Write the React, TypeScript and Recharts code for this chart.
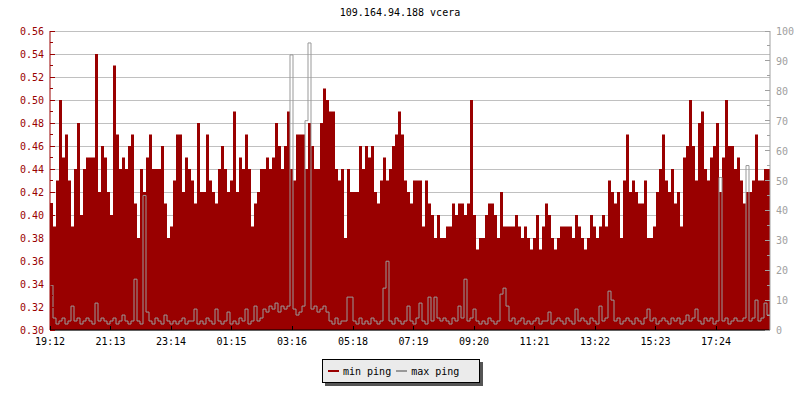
import { ComposedChart, Area, Line, XAxis, YAxis, CartesianGrid } from "recharts"

const TITLE = "109.164.94.188 vcera"
const START = "19:12"
const SPAN_MIN = 1440
const BUCKET_MIN = 6

const TIME_LABELS = ["19:12", "21:13", "23:14", "01:15", "03:16", "05:18", "07:19", "09:20", "11:21", "13:22", "15:23", "17:24"]

// min ping (left axis), one value per 6 minute bucket
const MIN_PING = [
  0.41, 0.39, 0.43, 0.50, 0.45, 0.47, 0.43, 0.39, 0.44, 0.48,
  0.40, 0.44, 0.45, 0.45, 0.45, 0.54, 0.42, 0.46, 0.45, 0.42,
  0.40, 0.53, 0.47, 0.44, 0.45, 0.44, 0.46, 0.47, 0.41, 0.38,
  0.44, 0.42, 0.45, 0.47, 0.44, 0.44, 0.44, 0.46, 0.41, 0.38,
  0.39, 0.43, 0.47, 0.47, 0.42, 0.45, 0.44, 0.43, 0.41, 0.48,
  0.42, 0.42, 0.47, 0.43, 0.42, 0.41, 0.44, 0.46, 0.44, 0.42,
  0.43, 0.49, 0.42, 0.45, 0.44, 0.47, 0.44, 0.39, 0.41, 0.42,
  0.44, 0.44, 0.45, 0.44, 0.45, 0.48, 0.46, 0.44, 0.46, 0.49,
  0.44, 0.43, 0.47, 0.47, 0.47, 0.44, 0.48, 0.46, 0.44, 0.44,
  0.48, 0.51, 0.50, 0.49, 0.49, 0.44, 0.43, 0.44, 0.38, 0.44,
  0.42, 0.42, 0.42, 0.46, 0.44, 0.46, 0.45, 0.46, 0.42, 0.41,
  0.43, 0.45, 0.43, 0.44, 0.46, 0.47, 0.49, 0.47, 0.43, 0.42,
  0.41, 0.43, 0.43, 0.43, 0.39, 0.43, 0.41, 0.40, 0.38, 0.40,
  0.38, 0.38, 0.39, 0.39, 0.41, 0.40, 0.41, 0.41, 0.40, 0.41,
  0.50, 0.40, 0.37, 0.38, 0.38, 0.40, 0.41, 0.41, 0.40, 0.38,
  0.42, 0.39, 0.39, 0.39, 0.39, 0.40, 0.39, 0.38, 0.39, 0.38,
  0.37, 0.38, 0.40, 0.37, 0.39, 0.41, 0.40, 0.38, 0.37, 0.38,
  0.39, 0.39, 0.39, 0.39, 0.38, 0.40, 0.39, 0.38, 0.37, 0.38,
  0.40, 0.39, 0.38, 0.39, 0.40, 0.39, 0.43, 0.42, 0.41, 0.42,
  0.38, 0.43, 0.47, 0.42, 0.43, 0.42, 0.41, 0.41, 0.43, 0.38,
  0.38, 0.39, 0.42, 0.44, 0.47, 0.43, 0.42, 0.44, 0.41, 0.42,
  0.39, 0.45, 0.46, 0.50, 0.46, 0.43, 0.48, 0.49, 0.44, 0.43,
  0.45, 0.46, 0.48, 0.42, 0.45, 0.50, 0.46, 0.46, 0.44, 0.45,
  0.43, 0.41, 0.42, 0.42, 0.43, 0.47, 0.43, 0.43, 0.44, 0.44,
]

// max ping (right axis)
const MAX_PING = [
  15, 4, 2, 3, 4, 2, 3, 8, 3, 4,
  2, 3, 4, 3, 2, 9, 3, 4, 3, 2,
  3, 4, 2, 3, 5, 3, 2, 3, 17, 3,
  2, 45, 6, 3, 2, 4, 3, 2, 5, 3,
  2, 3, 2, 3, 4, 2, 3, 3, 7, 2,
  3, 2, 4, 3, 2, 7, 3, 2, 3, 6,
  2, 3, 2, 4, 3, 7, 2, 3, 8, 3,
  4, 7, 6, 8, 7, 9, 6, 8, 7, 8,
  92, 7, 5, 6, 8, 70, 96, 7, 8, 6,
  7, 8, 6, 3, 2, 4, 2, 3, 3, 11,
  11, 3, 2, 4, 2, 3, 2, 4, 3, 2,
  3, 14, 23, 3, 2, 4, 3, 2, 3, 8,
  3, 2, 4, 9, 3, 2, 11, 3, 11, 4,
  3, 4, 3, 2, 4, 3, 8, 4, 17, 3,
  4, 7, 3, 2, 3, 2, 4, 3, 2, 3,
  12, 14, 8, 3, 4, 2, 3, 4, 2, 3,
  2, 3, 4, 2, 3, 3, 6, 2, 3, 4,
  3, 2, 4, 3, 2, 7, 3, 4, 3, 2,
  4, 3, 2, 8, 3, 4, 13, 10, 3, 4,
  2, 3, 4, 3, 2, 4, 3, 2, 4, 7,
  3, 4, 2, 3, 4, 3, 2, 4, 3, 4,
  2, 3, 5, 3, 4, 7, 3, 2, 4, 3,
  4, 2, 3, 51, 3, 4, 2, 3, 4, 3,
  3, 4, 55, 3, 4, 10, 3, 4, 9, 5,
]

const LEFT_MIN = 0.3
const LEFT_MAX = 0.56
const LEFT_MAJOR = [0.30, 0.32, 0.34, 0.36, 0.38, 0.40, 0.42, 0.44, 0.46, 0.48, 0.50, 0.52, 0.54, 0.56]
const RIGHT_MAJOR = [0, 10, 20, 30, 40, 50, 60, 70, 80, 90, 100]

const RED = "#990000"
const GRAY = "#999999"
const FONT = "'DejaVu Sans Mono', monospace"

const toMin = (s: string) => {
  const [h, m] = s.split(":").map(Number)
  return h * 60 + m
}
const offsetOf = (s: string) => (toMin(s) - toMin(START) + 1440) % 1440

const xTicks = TIME_LABELS.map(offsetOf)
const labelAt = new Map(TIME_LABELS.map((l) => [offsetOf(l), l]))

// minor ticks halfway between the labelled ones
const leftTicks = LEFT_MAJOR.flatMap((v, i) =>
  i < LEFT_MAJOR.length - 1 ? [v, +(v + 0.01).toFixed(2)] : [v]
)
const rightTicks = RIGHT_MAJOR.flatMap((v, i) => (i < RIGHT_MAJOR.length - 1 ? [v, v + 5] : [v]))

const data = MIN_PING.map((v, i) => ({ t: i * BUCKET_MIN, min: v, max: MAX_PING[i] }))
// close the last step at the right edge
data.push({ t: SPAN_MIN, min: MIN_PING[MIN_PING.length - 1], max: MAX_PING[MAX_PING.length - 1] })

function LeftTick(props: any) {
  const { x, y, payload } = props
  const v = payload.value as number
  const major = Math.round(v * 100) % 2 === 0
  const ax = x + 6
  return (
    <g>
      <line x1={ax} x2={ax + (major ? 5 : 3)} y1={y} y2={y} stroke={RED} shapeRendering="crispEdges" />
      {major && (
        <text x={x} y={y} dy={4} textAnchor="end" fill={RED} fontSize={10} fontFamily={FONT}>
          {v.toFixed(2)}
        </text>
      )}
    </g>
  )
}

function RightTick(props: any) {
  const { x, y, payload } = props
  const v = payload.value as number
  const major = v % 10 === 0
  const ax = x - 6
  return (
    <g>
      <line x1={ax} x2={ax - (major ? 5 : 3)} y1={y} y2={y} stroke="#a0a0a0" shapeRendering="crispEdges" />
      {major && (
        <text x={x} y={y} dy={4} textAnchor="start" fill="#a0a0a0" fontSize={10} fontFamily={FONT}>
          {v}
        </text>
      )}
    </g>
  )
}

function TimeTick(props: any) {
  const { x, y, payload } = props
  const base = y - 4
  return (
    <g>
      <line x1={x} x2={x} y1={base} y2={base - 4} stroke="#000" shapeRendering="crispEdges" />
      <text x={x} y={y} dy={11} textAnchor="middle" fill="#000" fontSize={10} fontFamily={FONT}>
        {labelAt.get(payload.value)}
      </text>
    </g>
  )
}

function Swatch({ color }: { color: string }) {
  return <span style={{ display: "inline-block", width: 11, height: 2, background: color }} />
}

export default function App() {
  return (
    <div style={{ position: "absolute", left: 0, top: 0, width: 800, height: 400, background: "#fff" }}>
      <div
        style={{
          position: "absolute",
          top: 6,
          left: 0,
          width: 800,
          textAlign: "center",
          fontFamily: FONT,
          fontSize: 10,
          lineHeight: "14px",
          color: "#000",
        }}
      >
        {TITLE}
      </div>
      <ComposedChart width={800} height={400} data={data} margin={{ top: 31, right: 0, bottom: 0, left: 0 }}>
        <CartesianGrid
          yAxisId="left"
          vertical={false}
          stroke="#c0c0c0"
          shapeRendering="crispEdges"
          horizontalCoordinatesGenerator={({ offset }: any) =>
            LEFT_MAJOR.map((v) => offset.top + ((LEFT_MAX - v) / (LEFT_MAX - LEFT_MIN)) * offset.height)
          }
        />
        <XAxis
          dataKey="t"
          type="number"
          domain={[0, SPAN_MIN]}
          ticks={xTicks}
          interval={0}
          height={70}
          tickSize={0}
          tickMargin={4}
          tickLine={false}
          axisLine={{ stroke: "#000" }}
          tick={<TimeTick />}
        />
        <YAxis
          yAxisId="left"
          domain={[LEFT_MIN, LEFT_MAX]}
          ticks={leftTicks}
          interval={0}
          width={50}
          tickSize={0}
          tickMargin={6}
          tickLine={false}
          axisLine={{ stroke: RED }}
          tick={<LeftTick />}
        />
        <YAxis
          yAxisId="right"
          orientation="right"
          domain={[0, 100]}
          ticks={rightTicks}
          interval={0}
          width={30}
          tickSize={0}
          tickMargin={6}
          tickLine={false}
          axisLine={{ stroke: "#a0a0a0" }}
          tick={<RightTick />}
        />
        <Area
          yAxisId="left"
          type="stepAfter"
          dataKey="min"
          name="min ping"
          fill={RED}
          fillOpacity={1}
          stroke="none"
          isAnimationActive={false}
        />
        <Line
          yAxisId="right"
          type="stepAfter"
          dataKey="max"
          name="max ping"
          stroke={GRAY}
          strokeWidth={1}
          dot={false}
          activeDot={false}
          isAnimationActive={false}
        />
      </ComposedChart>
      <div
        style={{
          position: "absolute",
          left: 322,
          top: 359,
          width: 151,
          height: 22,
          background: "#ebebeb",
          border: "1px solid #000",
          boxShadow: "3px 3px 0 #555",
          display: "flex",
          alignItems: "center",
          paddingLeft: 5,
          boxSizing: "content-box",
          fontFamily: FONT,
          fontSize: 10,
          color: "#000",
          whiteSpace: "pre",
        }}
      >
        <Swatch color={RED} />
        <span style={{ marginLeft: 4 }}>min ping</span>
        <span style={{ marginLeft: 5, display: "inline-flex" }}>
          <Swatch color={GRAY} />
        </span>
        <span style={{ marginLeft: 4 }}>max ping</span>
      </div>
    </div>
  )
}
